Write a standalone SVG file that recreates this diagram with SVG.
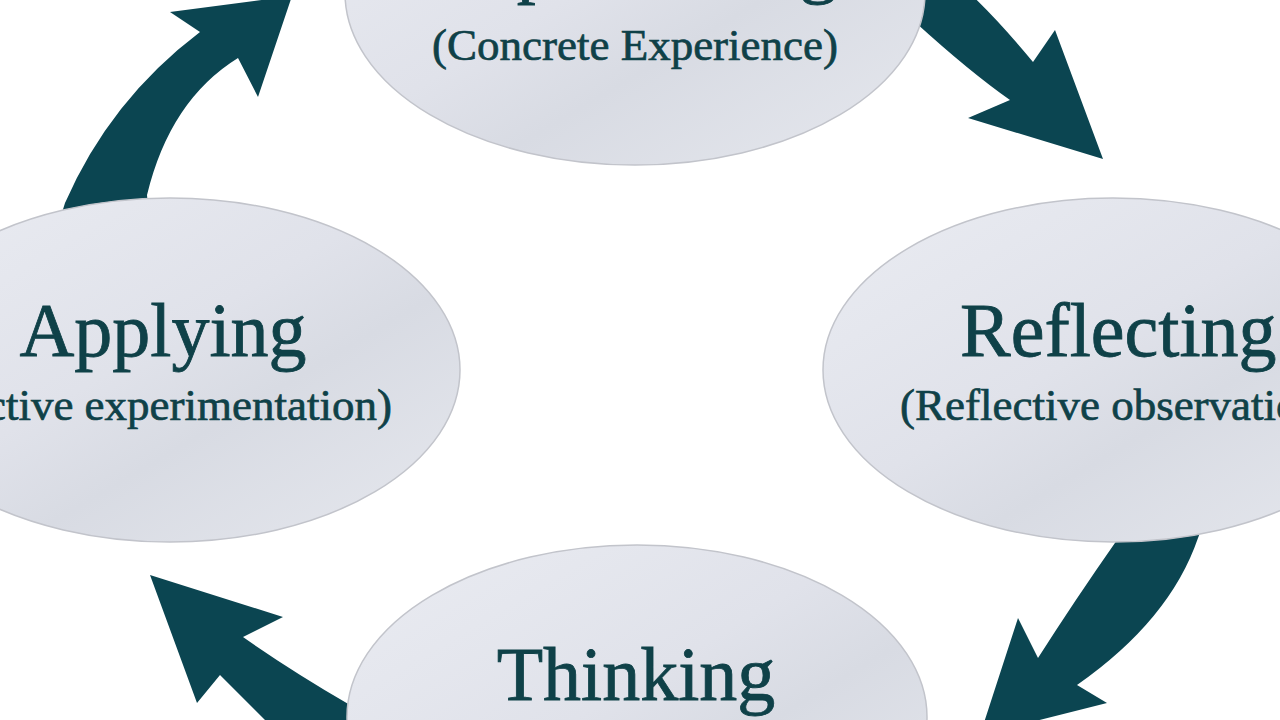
<svg xmlns="http://www.w3.org/2000/svg" width="1280" height="720" viewBox="0 0 1280 720">
  <defs>
    <linearGradient id="ellFill" x1="0" y1="0" x2="1" y2="1">
      <stop offset="0" stop-color="#eaecf2"/>
      <stop offset="0.45" stop-color="#e0e2ea"/>
      <stop offset="0.62" stop-color="#d8dbe3"/>
      <stop offset="1" stop-color="#e6e8ee"/>
    </linearGradient>
  </defs>
  <style>
    .arrow { fill: #0b4551; }
    .node { fill: url(#ellFill); stroke: #c2c4cb; stroke-width: 1.5; }
    .title { font-family: "Liberation Serif", "Times New Roman", serif; font-size: 76px; fill: #0f4148; stroke: #0f4148; stroke-width: 0.8px; }
    .sub { font-family: "Liberation Serif", "Times New Roman", serif; font-size: 45px; fill: #0f4148; stroke: #0f4148; stroke-width: 0.7px; }
  </style>
  <rect x="0" y="0" width="1280" height="720" fill="#ffffff"/>

  <g id="connectors">
    <path class="arrow" d="M 55 235 L 65 203 Q 110 100 200 32 L 170 12 L 292 -4 L 258 97 L 238 58 Q 170 100 147 195 L 150 230 Z"/>
    <path class="arrow" d="M 955 -20 Q 990 10 1033 62 L 1055 30 L 1103 159 L 968 118 L 1010 100 Q 970 72 915 22 L 900 -20 Z"/>
    <path class="arrow" d="M 1205 520 L 1198 538 Q 1170 620 1077 685 L 1107 703 L 980 735 L 1018 618 L 1038 658 Q 1075 600 1117 540 L 1115 520 Z"/>
    <path class="arrow" d="M 150 575 L 283 617 L 243 637 Q 290 670 350 705 L 375 700 L 380 745 L 290 745 Q 250 705 220 675 L 197 703 Z"/>
  </g>

  <g id="node-experiencing">
    <ellipse class="node" cx="635" cy="-7" rx="290" ry="172"/>
    <text class="title" x="635" y="-11" text-anchor="middle">Experiencing</text>
    <text class="sub" x="635" y="60" text-anchor="middle">(Concrete Experience)</text>
  </g>

  <g id="node-reflecting">
    <ellipse class="node" cx="1113" cy="370" rx="290" ry="172"/>
    <text class="title" x="960" y="356">Reflecting</text>
    <text class="sub" x="900" y="420">(Reflective observation)</text>
  </g>

  <g id="node-thinking">
    <ellipse class="node" cx="637" cy="717" rx="290" ry="172"/>
    <text class="title" x="636" y="700" text-anchor="middle">Thinking</text>
  </g>

  <g id="node-applying">
    <ellipse class="node" cx="170" cy="370" rx="290" ry="172"/>
    <text class="title" x="163" y="356" text-anchor="middle">Applying</text>
    <text class="sub" x="392" y="420" text-anchor="end">(Active experimentation)</text>
  </g>
</svg>
